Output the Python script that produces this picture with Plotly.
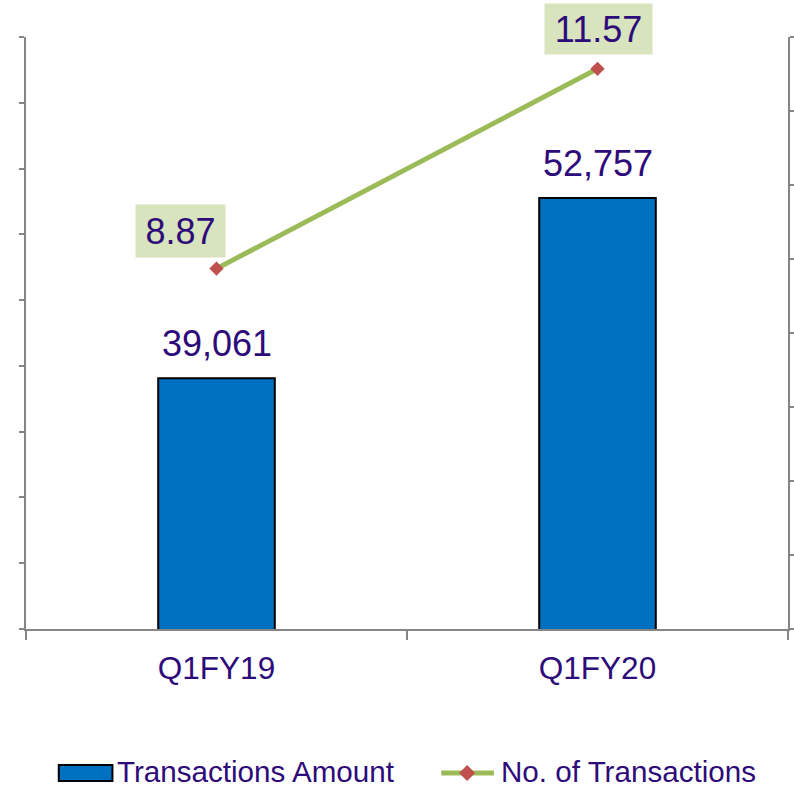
import plotly.graph_objects as go

# Quarterly figures
quarters = ["Q1FY19", "Q1FY20"]
amount = [39061, 52757]          # Transactions Amount (left axis)
count = [8.87, 11.57]            # No. of Transactions (right axis)
amount_labels = ["39,061", "52,757"]
count_labels = ["8.87", "11.57"]

TEXT = "#2E0B7A"
AXIS = "#868686"
FONT = "Liberation Sans, Arial, sans-serif"

W, H = 794, 788
L, R, T, B = 26, 1, 37, 159
PW, PH = W - L - R, H - T - B

fig = go.Figure()

fig.add_trace(go.Bar(
    x=quarters, y=amount, width=0.306,
    marker=dict(color="#0070C0", line=dict(color="#000000", width=2)),
    name="Transactions Amount", yaxis="y", showlegend=False,
))

fig.add_trace(go.Scatter(
    x=quarters, y=count, mode="lines+markers",
    line=dict(color="#9BBB59", width=5),
    marker=dict(symbol="diamond", size=11, color="#C0504D"),
    name="No. of Transactions", yaxis="y2", showlegend=False,
))

annotations = []
for q, v, t in zip(quarters, amount, amount_labels):
    annotations.append(dict(
        x=q, y=v, xref="x", yref="y", text=t, showarrow=False,
        xanchor="center", yanchor="bottom", yshift=12,
        font=dict(family=FONT, size=36, color=TEXT),
    ))

# value boxes for the line series
box_offsets = [(-36.5, 37.5, 89, 52), (0.5, 40, 107, 50)]
for q, v, t, (dx, dy, bw, bh) in zip(quarters, count, count_labels, box_offsets):
    annotations.append(dict(
        x=q, y=v, xref="x", yref="y2", text=t, showarrow=False,
        xanchor="center", yanchor="middle", xshift=dx, yshift=dy,
        width=bw, height=bh, borderpad=0, bgcolor="#D7E4BD",
        font=dict(family=FONT, size=36, color=TEXT),
    ))

# custom legend below the plot
def px_x(p):
    return (p - L) / PW

def px_y(p):
    return (H - B - p) / PH

leg_y = 773
text_y = 771.5
shapes = [
    dict(type="rect", xref="paper", yref="paper",
         x0=px_x(59), x1=px_x(113), y0=px_y(781), y1=px_y(765),
         fillcolor="#0070C0", line=dict(color="#000000", width=2)),
    dict(type="line", xref="paper", yref="paper",
         x0=px_x(444), x1=px_x(497), y0=px_y(leg_y), y1=px_y(leg_y),
         line=dict(color="#9BBB59", width=5)),
    dict(type="path", xref="paper", yref="paper",
         xsizemode="pixel", ysizemode="pixel",
         xanchor=px_x(470), yanchor=px_y(leg_y),
         path="M 0 8 L 8 0 L 0 -8 L -8 0 Z",
         fillcolor="#C0504D", line=dict(width=0)),
]
annotations += [
    dict(x=px_x(116), y=px_y(text_y), xref="paper", yref="paper",
         text="Transactions Amount", showarrow=False,
         xanchor="left", yanchor="middle",
         font=dict(family=FONT, size=29.6, color=TEXT)),
    dict(x=px_x(502), y=px_y(text_y), xref="paper", yref="paper",
         text="No. of Transactions", showarrow=False,
         xanchor="left", yanchor="middle",
         font=dict(family=FONT, size=29.6, color=TEXT)),
]

fig.update_layout(
    width=W, height=H,
    margin=dict(l=L, r=R, t=T, b=B),
    paper_bgcolor="white", plot_bgcolor="white",
    showlegend=False,
    font=dict(family=FONT, color=TEXT),
    xaxis=dict(
        type="category", tickson="boundaries",
        ticks="outside", ticklen=9, tickwidth=2, tickcolor=AXIS,
        showline=True, linecolor=AXIS, linewidth=2,
        showgrid=False, zeroline=False, ticklabelstandoff=10,
        tickfont=dict(family=FONT, size=31.5, color=TEXT),
    ),
    yaxis=dict(
        range=[20000, 65000], dtick=5000,
        ticks="outside", ticklen=5, tickwidth=2, tickcolor=AXIS,
        showline=True, linecolor=AXIS, linewidth=2,
        showgrid=False, zeroline=False, showticklabels=False,
    ),
    yaxis2=dict(
        range=[4, 12], dtick=1, overlaying="y", side="right",
        ticks="outside", ticklen=5, tickwidth=2, tickcolor=AXIS,
        showline=True, linecolor=AXIS, linewidth=2,
        showgrid=False, zeroline=False, showticklabels=False,
    ),
    annotations=annotations,
    shapes=shapes,
)

fig.write_html("out.html")
